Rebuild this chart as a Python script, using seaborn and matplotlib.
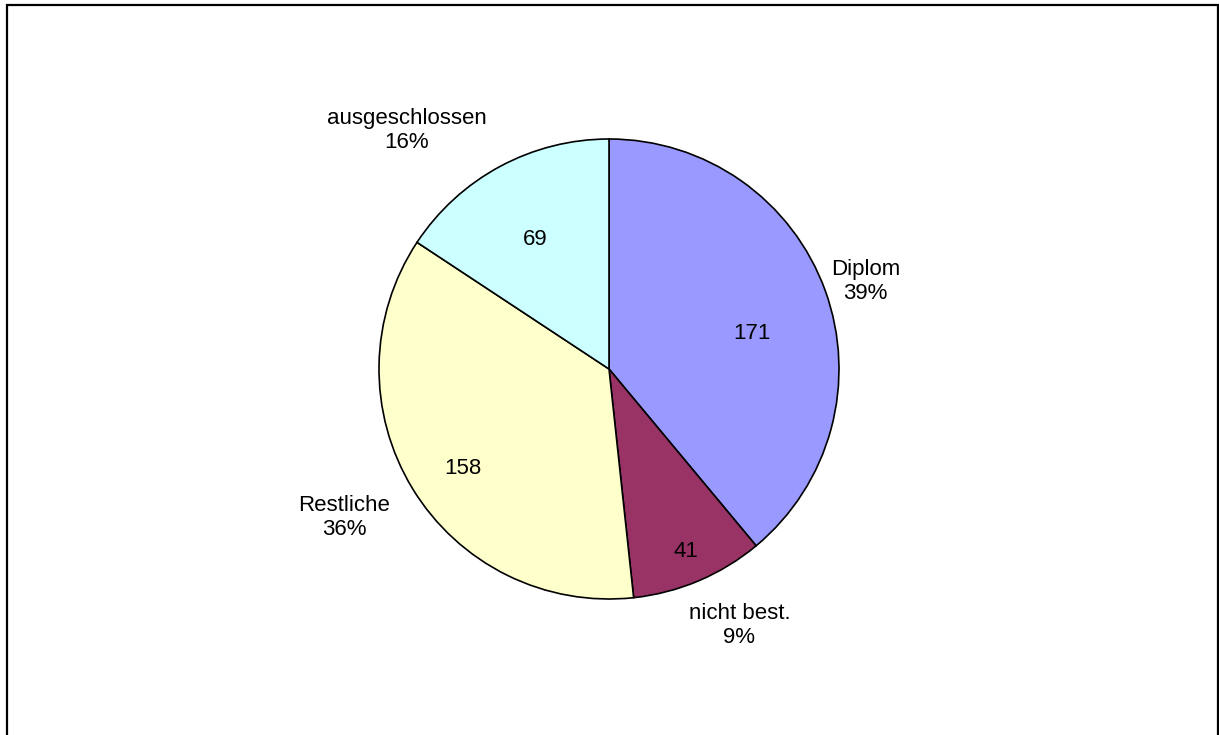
import numpy as np
import matplotlib
matplotlib.use("Agg")
import matplotlib.pyplot as plt
import seaborn as sns
from matplotlib.patches import Rectangle

categories = ["Diplom", "nicht best.", "Restliche", "ausgeschlossen"]
values = [171, 41, 158, 69]
colors = ["#9999FF", "#993366", "#FFFFCC", "#CCFFFF"]
label_dist = [1.18, 1.25, 1.32, 1.36]
label_angle_adj = [-1, 4, -2, 12]
pct_dist = [0.64, 0.86, 0.77, 0.65]
pct_angle_adj = [-6, 0, 3, 1.5]

sns.set_theme(style="white")
plt.rcParams["font.family"] = ["Liberation Sans", "DejaVu Sans"]

W, H = 1219, 735
fig = plt.figure(figsize=(W / 100, H / 100), dpi=100)
ax = fig.add_axes([0, 0, 1, 1])
cx, cy, R = 609, 369, 230
ax.set_aspect("equal")
ax.axis("off")

total = sum(values)
wedges, texts = ax.pie(
    values, colors=colors, startangle=90, counterclock=False,
    wedgeprops=dict(edgecolor="black", linewidth=1.2),
    radius=1.0, center=(0, 0), frame=False,
)
for w, v, name, d, adj, pd, padj in zip(wedges, values, categories, label_dist,
                                         label_angle_adj, pct_dist, pct_angle_adj):
    mid = np.deg2rad((w.theta1 + w.theta2) / 2)
    m1 = mid + np.deg2rad(padj)
    ax.text(pd * np.cos(m1), pd * np.sin(m1), f"{v}", ha="center", va="center",
            fontsize=16, color="black")
    m2 = mid + np.deg2rad(adj)
    pct = round(100 * v / total)
    ax.text(d * np.cos(m2), d * np.sin(m2), f"{name}\n{pct}%", ha="center", va="center",
            fontsize=16, color="black", multialignment="center", linespacing=1.2)

fig.patches.append(Rectangle((6.5 / W, -0.05), (1217.5 - 6.5) / W, 1.05 - 5.5 / H,
                             transform=fig.transFigure, fill=False,
                             edgecolor="black", linewidth=1.6))
ax.set_xlim(-cx / R, (W - cx) / R)
ax.set_ylim(-(H - cy) / R, cy / R)
fig.savefig("out.png", dpi=100, facecolor="white")
